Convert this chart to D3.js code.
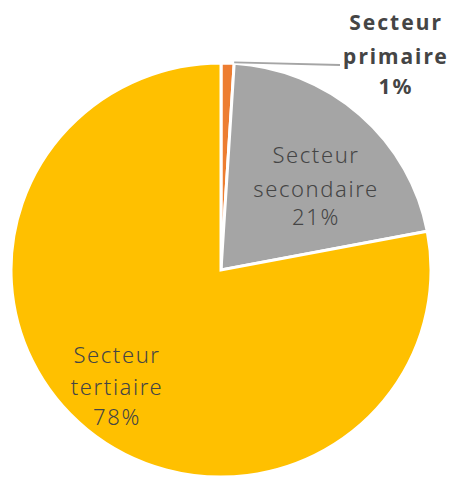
<!DOCTYPE html>
<meta charset="utf-8">
<style>
    body { margin: 0; background: #fff; }
    text { font-family: "Noto Sans", sans-serif; fill: #454545; }
</style>
<div id="chart"></div>
<script src="https://d3js.org/d3.v7.min.js"></script>
<script>

    // data
    var categories = ["primaire", "secondaire", "tertiaire"];
    var values = [1, 21, 78];
    var colors = ["#ED7D31", "#A5A5A5", "#FFC000"];
    var labels = [
        ["Secteur", "primaire", "1%"],
        ["Secteur", "secondaire", "21%"],
        ["Secteur", "tertiaire", "78%"]
    ];

    var width = 452, height = 480,
        radius = 210;

    var svg = d3.select("#chart")
        .append("svg")
        .attr("width", width)
        .attr("height", height);

    var g = svg.append("g")
        .attr("transform", "translate(221,270) scale(1,0.986)");

    var pie = d3.pie().sort(null).value(function (d) { return d; });
    var arc = d3.arc().innerRadius(0).outerRadius(radius);
    var slices = pie(values);

    g.selectAll("path")
        .data(slices)
        .enter()
        .append("path")
        .attr("d", arc)
        .attr("fill", function (d, i) { return colors[i]; })
        .attr("stroke", "#fff")
        .attr("stroke-width", 3);

    // leader line for the tiny slice
    var a0 = slices[0].endAngle;
    var p0 = [Math.sin(a0) * radius, -Math.cos(a0) * radius];
    g.append("line")
        .attr("x1", p0[0]).attr("y1", p0[1] - 1)
        .attr("x2", 119).attr("y2", -208)
        .attr("stroke", "#A5A5A5")
        .attr("stroke-width", 2);

    // label positions (page coords) and line baselines
    var labelPos = [
        { x: 396, y: [30, 64, 94], size: 21, weight: "bold", spacing: 2 },
        { x: 316, y: [163, 197, 225], size: 22, weight: 300, spacing: 1.6 },
        { x: 117, y: [363, 395, 425], size: 22, weight: 300, spacing: 1.6 }
    ];

    labelPos.forEach(function (p, i) {
        var t = svg.append("text")
            .attr("text-anchor", "middle")
            .style("font-size", p.size + "px")
            .style("font-weight", p.weight)
            .style("letter-spacing", p.spacing + "px");
        labels[i].forEach(function (line, j) {
            t.append("tspan")
                .attr("x", p.x)
                .attr("y", p.y[j])
                .text(line);
        });
    });

</script>
